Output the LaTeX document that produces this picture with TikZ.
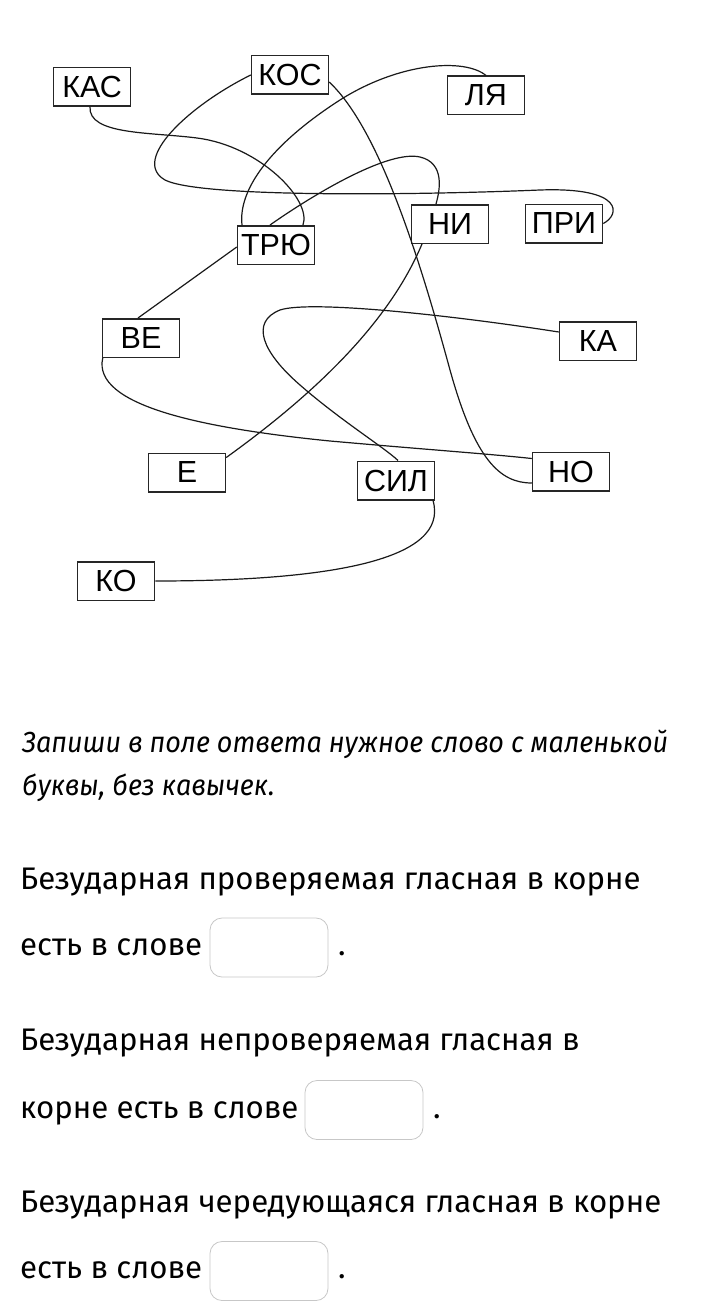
\documentclass[tikz,border=0pt]{standalone}
\usepackage{fontspec}
\setmainfont{Fira Sans}
\newfontfamily\boxfont{Liberation Sans}

\begin{document}
\begin{tikzpicture}[x=1pt, y=-1pt,
  word/.style={draw=black!85, line width=1.5pt, minimum width=77pt, minimum height=38.5pt, inner sep=0pt, font=\boxfont\fontsize{30.5}{30.5}\selectfont},
  link/.style={line width=1.2pt, draw=black!90},
  txt/.style={anchor=base west, inner sep=0pt, font=\fontsize{31.2}{36}\selectfont},
  hint/.style={txt, font=\itshape\fontsize{29}{34}\selectfont},
  field/.style={draw=black!22, line width=0.8pt, rounded corners=12pt, minimum width=118pt, minimum height=59pt, inner sep=0pt}
]
\useasboundingbox (0,0) rectangle (712,1311);
\node[word] (kas) at (92,86.7) {КАС};
\node[word] (kos) at (290,75) {КОС};
\node[word] (lya) at (486,95.5) {ЛЯ};
\node[word] (tryu) at (276,245) {ТРЮ};
\node[word] (ni) at (450,224) {НИ};
\node[word] (pri) at (564,223.5) {ПРИ};
\node[word] (ve) at (141,338) {ВЕ};
\node[word] (ka) at (598,341) {КА};
\node[word] (e) at (187,472.5) {Е};
\node[word] (sil) at (396,480.5) {СИЛ};
\node[word] (no) at (571,471.5) {НО};
\node[word] (ko) at (116,581) {КО};
\draw[link] ([xshift=-2pt]kas.south) .. controls (88,135) and (150,132) .. (197,138) .. controls (260,146) and (312,200) .. ([xshift=27pt]tryu.north);
\draw[link] (kos.west) .. controls (190,105) and (130,160) .. (165,180) .. controls (200,198) and (420,195) .. (540,190) .. controls (625,187) and (620,215) .. (pri.east);
\draw[link] (lya.north) .. controls (465,58) and (400,62) .. (340,100) .. controls (270,145) and (238,190) .. ([xshift=-34pt]tryu.north);
\draw[link] ([yshift=-7pt]kos.east) .. controls (380,130) and (420,260) .. (450,370) .. controls (475,460) and (500,483) .. ([yshift=-11.5pt]no.west);
\draw[link] ([xshift=-6pt]tryu.north) .. controls (320,190) and (390,150) .. (420,157) .. controls (445,163) and (440,190) .. ([xshift=-14pt]ni.north);
\draw[link] ([yshift=-2pt]tryu.west) -- ([xshift=-3pt]ve.north);
\draw[link] ([xshift=1pt]ve.south west) .. controls (92,405) and (200,428) .. (330,441) .. controls (420,449) and (490,454) .. ([yshift=13pt]no.west);
\draw[link] ([xshift=-28pt]ni.south) .. controls (390,320) and (320,390) .. ([yshift=15pt]e.east);
\draw[link] ([yshift=9pt]ka.west) .. controls (450,315) and (310,300) .. (280,310) .. controls (250,322) and (262,352) .. (300,385) .. controls (340,420) and (385,448) .. ([xshift=2pt]sil.north);
\draw[link] ([xshift=37pt]sil.south) .. controls (450,560) and (330,581) .. (ko.east);
\node[hint] (h1) at (22,752) {\scalebox{0.93}[1]{Запиши в поле ответа нужное слово с маленькой}};
\node[hint] (h2) at (22,795) {\scalebox{0.93}[1]{буквы, без кавычек.}};
\node[txt] (q1) at (20,889) {Безударная проверяемая гласная в корне};
\node[txt] (q1b) at (20,955) {есть в слове};
\node[field] (f1) at (269,947.5) {};
\node[txt] (d1) at (338,955) {.};
\node[txt] (q2) at (20,1050) {Безударная непроверяемая гласная в};
\node[txt] (q2b) at (20,1118) {корне есть в слове};
\node[field] (f2) at (364,1110) {};
\node[txt] (d2) at (433,1118) {.};
\node[txt] (q3) at (20,1212) {Безударная чередующаяся гласная в корне};
\node[txt] (q3b) at (20,1278) {есть в слове};
\node[field] (f3) at (269,1271) {};
\node[txt] (d3) at (338,1278) {.};
\end{tikzpicture}
\end{document}
